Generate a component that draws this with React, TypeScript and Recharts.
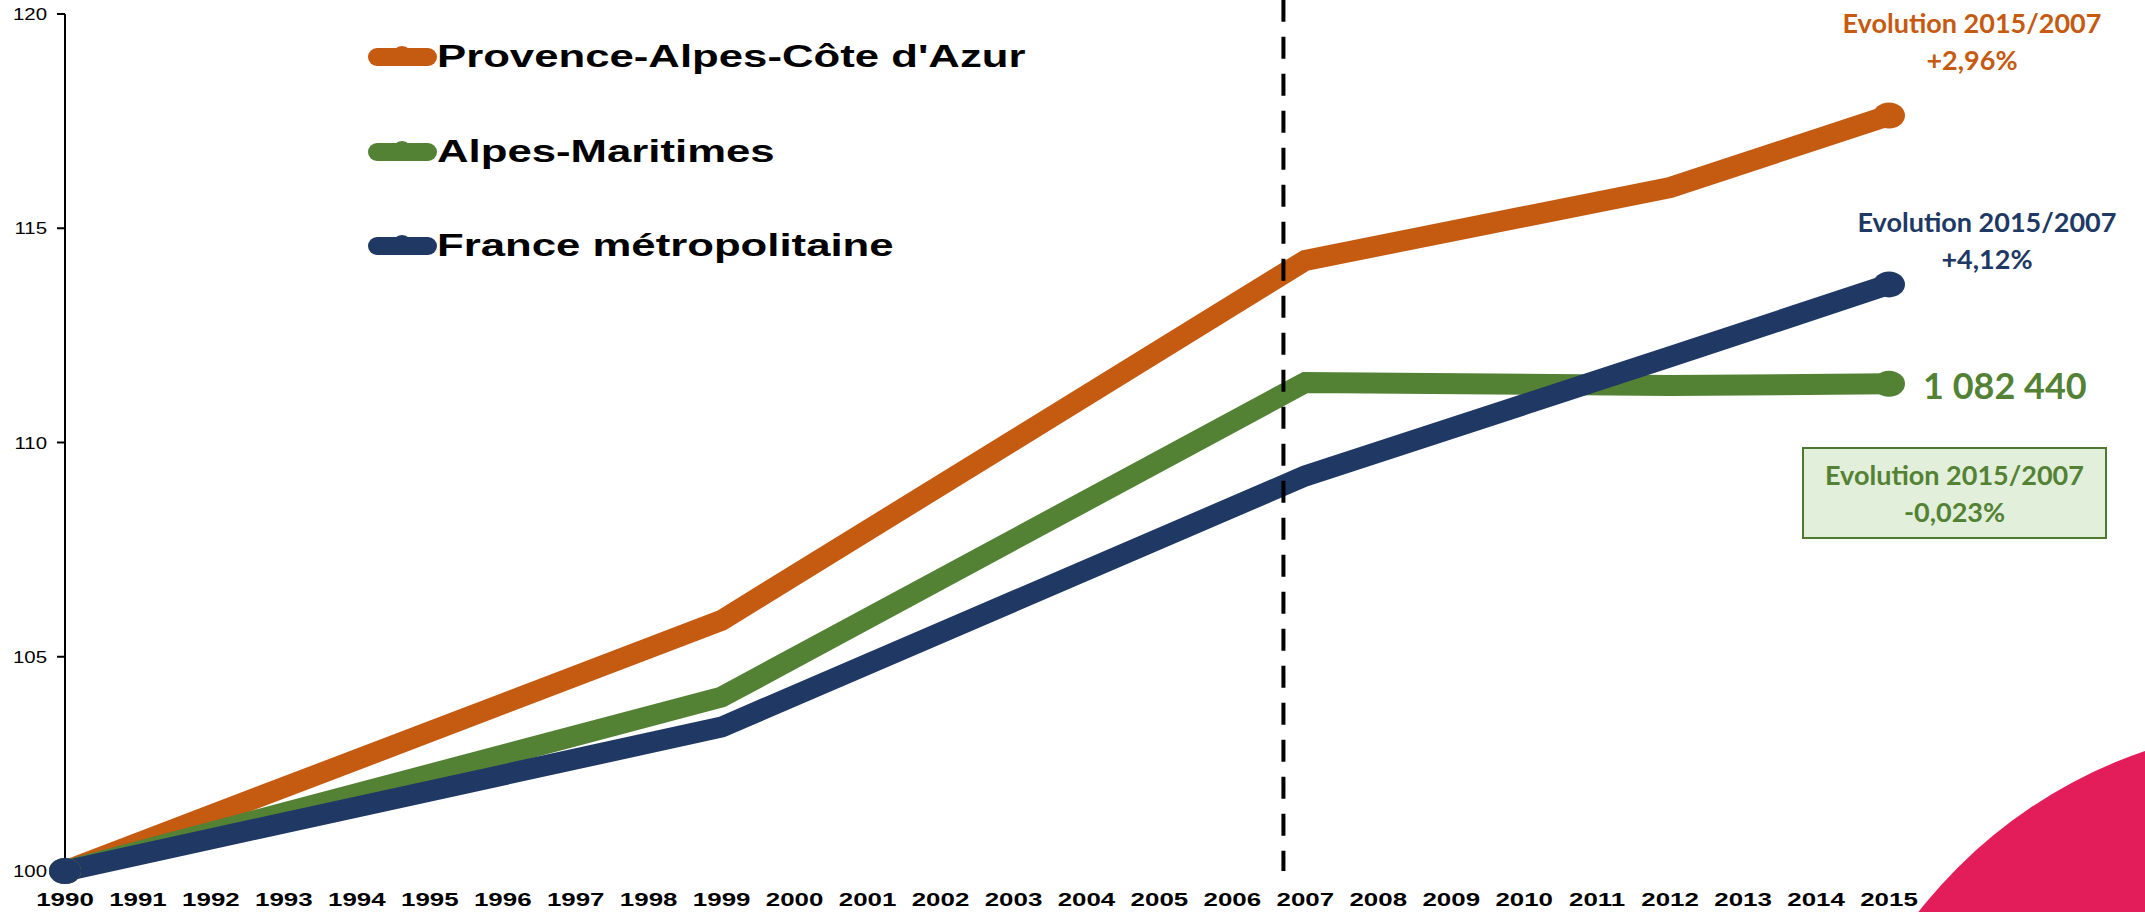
import React from 'react';
import { LineChart, Line, XAxis, YAxis, ReferenceLine, Legend } from 'recharts';

// census years and index values (base 100 in 1990)
const years = [1990, 1999, 2007, 2012, 2015];
const paca = [100, 105.85, 114.25, 115.95, 117.63];
const alpesMaritimes = [100, 104.06, 111.4, 111.33, 111.37];
const france = [100, 103.36, 109.22, 112.0, 113.69];

const yearTicks = [
  1990, 1991, 1992, 1993, 1994, 1995, 1996, 1997, 1998, 1999, 2000, 2001, 2002,
  2003, 2004, 2005, 2006, 2007, 2008, 2009, 2010, 2011, 2012, 2013, 2014, 2015,
];
const indexTicks = [100, 105, 110, 115, 120];

const seriesInfo = [
  { key: 'paca', name: "Provence-Alpes-Côte d'Azur", color: '#C55A11' },
  { key: 'am', name: 'Alpes-Maritimes', color: '#548235' },
  { key: 'fr', name: 'France métropolitaine', color: '#203864' },
];

const data = years.map((year, i) => ({
  year,
  paca: paca[i],
  am: alpesMaritimes[i],
  fr: france[i],
}));

const XTick = (props: any) => {
  const { x, y, payload } = props;
  return (
    <g transform={`translate(${x},${y})`}>
      <text
        transform="scale(1.4,1)"
        y={35}
        textAnchor="middle"
        fontFamily="Liberation Sans"
        fontWeight="bold"
        fontSize={18.5}
        fill="#000"
      >
        {payload.value}
      </text>
    </g>
  );
};

const YTick = (props: any) => {
  const { x, y, payload } = props;
  return (
    <g transform={`translate(${x},${y})`}>
      <text
        transform="scale(1.2,1)"
        dy="0.36em"
        textAnchor="end"
        fontFamily="Liberation Sans"
        fontSize={17}
        fill="#000"
      >
        {payload.value}
      </text>
    </g>
  );
};

const endDot = (color: string) => (props: any) => {
  const { cx, cy, index } = props;
  if (index !== 0 && index !== years.length - 1) return <g key={`d-${index}`} />;
  return <ellipse key={`d-${index}`} cx={cx} cy={cy} rx={16} ry={13} fill={color} />;
};

const LegendBox = () => (
  <div>
    {seriesInfo.map((s) => (
      <div key={s.key} style={{ display: 'flex', alignItems: 'center', height: 94.5 }}>
        <svg width={69} height={24} style={{ flexShrink: 0 }}>
          <line x1={9} y1={12} x2={60} y2={12} stroke={s.color} strokeWidth={18} strokeLinecap="round" />
          <circle cx={34} cy={11} r={10} fill={s.color} />
        </svg>
        <span
          style={{
            fontFamily: 'Liberation Sans',
            fontWeight: 'bold',
            fontSize: 31,
            color: '#000',
            whiteSpace: 'nowrap',
            display: 'inline-block',
            transform: 'scaleX(1.41)',
            transformOrigin: 'left center',
          }}
        >
          {s.name}
        </span>
      </div>
    ))}
  </div>
);

const noteStyle: React.CSSProperties = {
  position: 'absolute',
  width: 400,
  textAlign: 'center',
  fontFamily: 'Lato',
  fontWeight: 'bold',
  fontSize: 27,
  lineHeight: '37px',
};

export default function App() {
  return (
    <div
      style={{
        position: 'fixed',
        left: 0,
        top: 0,
        width: 2145,
        height: 912,
        overflow: 'hidden',
        background: '#fff',
      }}
    >
      <div
        style={{
          position: 'absolute',
          left: 1815,
          top: 725,
          width: 974,
          height: 974,
          borderRadius: '50%',
          background: '#E31C5A',
        }}
      />
      <div style={{ position: 'absolute', left: 0, top: 0 }}>
        <LineChart width={2145} height={912} data={data} margin={{ top: 14, right: 256, bottom: 0, left: 0 }}>
          <XAxis
            dataKey="year"
            type="number"
            domain={[1990, 2015]}
            ticks={yearTicks}
            interval={0}
            axisLine={false}
            tickLine={false}
            tickSize={0}
            tickMargin={0}
            height={41}
            tick={(p: any) => <XTick {...p} />}
          />
          <YAxis
            width={65}
            domain={[100, 120]}
            ticks={indexTicks}
            interval={0}
            axisLine={{ stroke: '#000', strokeWidth: 2 }}
            tickLine={{ stroke: '#000', strokeWidth: 2 }}
            tickSize={8}
            tickMargin={10}
            tick={(p: any) => <YTick {...p} />}
          />
          <Legend
            layout="vertical"
            align="center"
            verticalAlign="middle"
            wrapperStyle={{ left: 368, top: 10, width: 900 }}
            content={() => <LegendBox />}
          />
          {seriesInfo.map((s) => (
            <Line
              key={s.key}
              type="linear"
              dataKey={s.key}
              name={s.name}
              stroke={s.color}
              strokeWidth={21}
              dot={endDot(s.color)}
              activeDot={false}
              isAnimationActive={false}
            />
          ))}
          <ReferenceLine
            segment={[
              { x: 2006.7, y: 120.33 },
              { x: 2006.7, y: 100 },
            ]}
            ifOverflow="visible"
            stroke="#000"
            strokeWidth={4}
            strokeDasharray="22 15"
          />
        </LineChart>
      </div>

      <div style={{ ...noteStyle, left: 1772, top: 4, color: '#C55A11' }}>
        Evolution 2015/2007
        <br />
        +2,96%
      </div>
      <div style={{ ...noteStyle, left: 1787, top: 203, color: '#203864' }}>
        Evolution 2015/2007
        <br />
        +4,12%
      </div>
      <div
        style={{
          position: 'absolute',
          left: 1923,
          top: 363,
          fontFamily: 'Lato',
          fontWeight: 'bold',
          fontSize: 36,
          lineHeight: '44px',
          color: '#548235',
          whiteSpace: 'nowrap',
        }}
      >
        1 082 440
      </div>
      <div
        style={{
          position: 'absolute',
          left: 1802,
          top: 447,
          width: 305,
          height: 92,
          boxSizing: 'border-box',
          border: '2px solid #4E7A30',
          background: '#E2EFDA',
          color: '#548235',
          fontFamily: 'Lato',
          fontWeight: 'bold',
          fontSize: 27,
          lineHeight: '37px',
          textAlign: 'center',
          display: 'flex',
          flexDirection: 'column',
          justifyContent: 'center',
        }}
      >
        <div>Evolution 2015/2007</div>
        <div>-0,023%</div>
      </div>
    </div>
  );
}
